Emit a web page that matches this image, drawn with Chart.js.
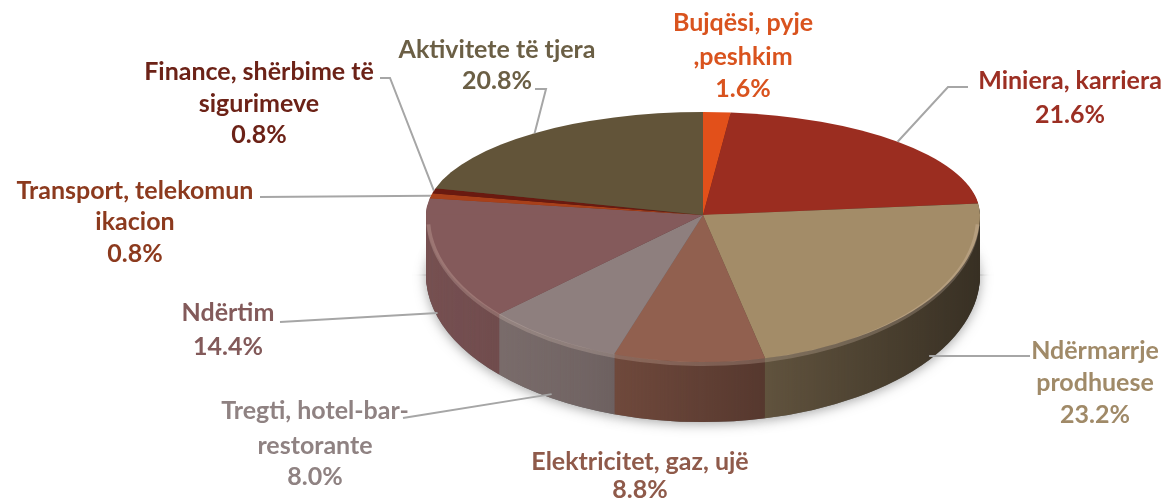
<!DOCTYPE html>
<html>
<head>
<meta charset="utf-8">
<script src="https://cdn.jsdelivr.net/npm/chart.js@4/dist/chart.umd.min.js"></script>
<style>
  html, body { margin: 0; background: #fff; }
  #wrap { width: 1168px; height: 499px; }
</style>
</head>
<body>
<div id="wrap"><canvas id="pie"></canvas></div>
<script>
// sektoret, ne rendin e orës duke filluar nga lart
const sectors = [
	["Bujqësi, pyje", ",peshkim"],
	["Miniera, karriera"],
	["Ndërmarrje", "prodhuese"],
	["Elektricitet, gaz, ujë"],
	["Tregti, hotel-bar-", "restorante"],
	["Ndërtim"],
	["Transport, telekomun", "ikacion"],
	["Finance, shërbime të", "sigurimeve"],
	["Aktivitete të tjera"],
];
const shares = [1.6, 21.6, 23.2, 8.8, 8.0, 14.4, 0.8, 0.8, 20.8];

const topColors = ["#e2501a", "#9b2d20", "#a38c68", "#91604f", "#8e7f7e", "#845a5b", "#a8401a", "#6a1a10", "#625439"];
const labelColors = ["#d9531e", "#9c2f23", "#a08a68", "#8f5a4a", "#8f8282", "#835a5a", "#8c3a1e", "#6c2217", "#6b5f45"];

// vendndodhja e etiketave (x qendra, y e çdo rreshti)
const labelX = [743, 1070, 1095, 640, 315, 228, 135, 259, 497];
const labelY = [[23, 57, 89], [81, 115], [351, 383, 415], [462, 490], [411, 446, 477], [313, 347], [191, 222, 254], [72, 104, 135], [50, 81]];
// vijat udhëzuese: pikat pas pikës në pite
const leaders = [
	null,
	[[948, 87], [968, 87]],
	[[1030, 356]],
	null,
	[[403, 418]],
	[[280, 322]],
	[[260, 197]],
	[[390, 78], [380, 78]],
	[[546, 89], [535, 89]],
];

const look = { rx: 277, ryTop: 103, ryBottom: 147, depth: 60 };

function shade(hex, k) {
	const n = parseInt(hex.slice(1), 16);
	const r = Math.round(((n >> 16) & 255) * k);
	const g = Math.round(((n >> 8) & 255) * k);
	const b = Math.round((n & 255) * k);
	return `rgb(${r},${g},${b})`;
}

function slicePath(ctx, arc, dy, half) {
	const { x, y, startAngle, endAngle, outerRadius } = arc.getProps(["x", "y", "startAngle", "endAngle", "outerRadius"]);
	const ry = half < 0 ? look.ryTop : look.ryBottom;
	ctx.save();
	ctx.beginPath();
	if (half < 0) ctx.rect(0, 0, 2000, y + dy + 0.5);
	else ctx.rect(0, y + dy - 0.5, 2000, 2000);
	ctx.clip();
	ctx.translate(x, y + dy);
	ctx.scale(look.rx / outerRadius, ry / outerRadius);
	ctx.beginPath();
	ctx.moveTo(0, 0);
	ctx.arc(0, 0, outerRadius, startAngle, endAngle);
	ctx.closePath();
	ctx.fill();
	ctx.restore();
}

const pie3d = {
	id: "pie3d",
	beforeDatasetsDraw(chart) {
		const ctx = chart.ctx;
		const arcs = chart.getDatasetMeta(0).data;
		const cx = arcs[0].x;
		const cy = arcs[0].y;

		// anash (muri)
		ctx.save();
		for (let dy = look.depth; dy >= 1; dy--) {
			arcs.forEach((arc, i) => {
				ctx.fillStyle = shade(topColors[i], 0.9);
				slicePath(ctx, arc, dy, -1);
				slicePath(ctx, arc, dy, 1);
			});
		}
		ctx.globalCompositeOperation = "source-atop";
		const g = ctx.createLinearGradient(cx - look.rx, 0, cx + look.rx, 0);
		g.addColorStop(0, "rgba(0,0,0,0)");
		g.addColorStop(0.3, "rgba(0,0,0,0.12)");
		g.addColorStop(1, "rgba(0,0,0,0.62)");
		ctx.fillStyle = g;
		ctx.fillRect(0, 0, chart.width, chart.height);
		// hija
		ctx.globalCompositeOperation = "destination-over";
		ctx.shadowColor = "rgba(0,0,0,0.35)";
		ctx.shadowBlur = 12;
		ctx.shadowOffsetY = 2;
		ctx.fillStyle = "#888";
		arcs.forEach((arc) => {
			slicePath(ctx, arc, look.depth, -1);
			slicePath(ctx, arc, look.depth, 1);
		});
		ctx.restore();

		// faqja e sipërme
		arcs.forEach((arc, i) => {
			ctx.fillStyle = topColors[i];
			slicePath(ctx, arc, 0, -1);
			slicePath(ctx, arc, 0, 1);
		});

		// shkëlqim i lehtë në buzë
		ctx.save();
		ctx.strokeStyle = "rgba(255,230,215,0.2)";
		ctx.lineWidth = 4;
		ctx.beginPath();
		ctx.ellipse(cx, cy + 2, look.rx - 2, look.ryBottom, 0, 0.05, Math.PI - 0.05);
		ctx.stroke();
		ctx.restore();
		return false;
	},
	afterDraw(chart) {
		const ctx = chart.ctx;
		const arcs = chart.getDatasetMeta(0).data;
		ctx.save();
		arcs.forEach((arc, i) => {
			const mid = (arc.startAngle + arc.endAngle) / 2;
			const down = Math.sin(mid) > 0;
			const ry = down ? look.ryBottom : look.ryTop;
			if (leaders[i]) {
				const ax = arc.x + Math.cos(mid) * look.rx;
				const ay = arc.y + Math.sin(mid) * ry + (down ? look.depth - 4 : 0);
				ctx.strokeStyle = "#a6a6a6";
				ctx.lineWidth = 2;
				ctx.beginPath();
				ctx.moveTo(ax, ay);
				leaders[i].forEach(([px, py]) => ctx.lineTo(px, py));
				ctx.stroke();
			}
			const lines = [...sectors[i], shares[i].toFixed(1) + "%"];
			ctx.fillStyle = labelColors[i];
			ctx.font = "bold 25px Lato";
			ctx.textAlign = "center";
			ctx.textBaseline = "middle";
			lines.forEach((t, k) => ctx.fillText(t, labelX[i], labelY[i][k]));
		});
		ctx.restore();
	},
};

new Chart(document.getElementById("pie"), {
	type: "pie",
	data: {
		labels: sectors.map((s) => s.join(" ")),
		datasets: [{ data: shares, backgroundColor: topColors, borderWidth: 0 }],
	},
	options: {
		responsive: true,
		maintainAspectRatio: false,
		animation: false,
		layout: { padding: { left: 238, bottom: 69 } },
		plugins: {
			legend: { display: false },
			tooltip: { enabled: false },
		},
	},
	plugins: [pie3d],
});
</script>
</body>
</html>
